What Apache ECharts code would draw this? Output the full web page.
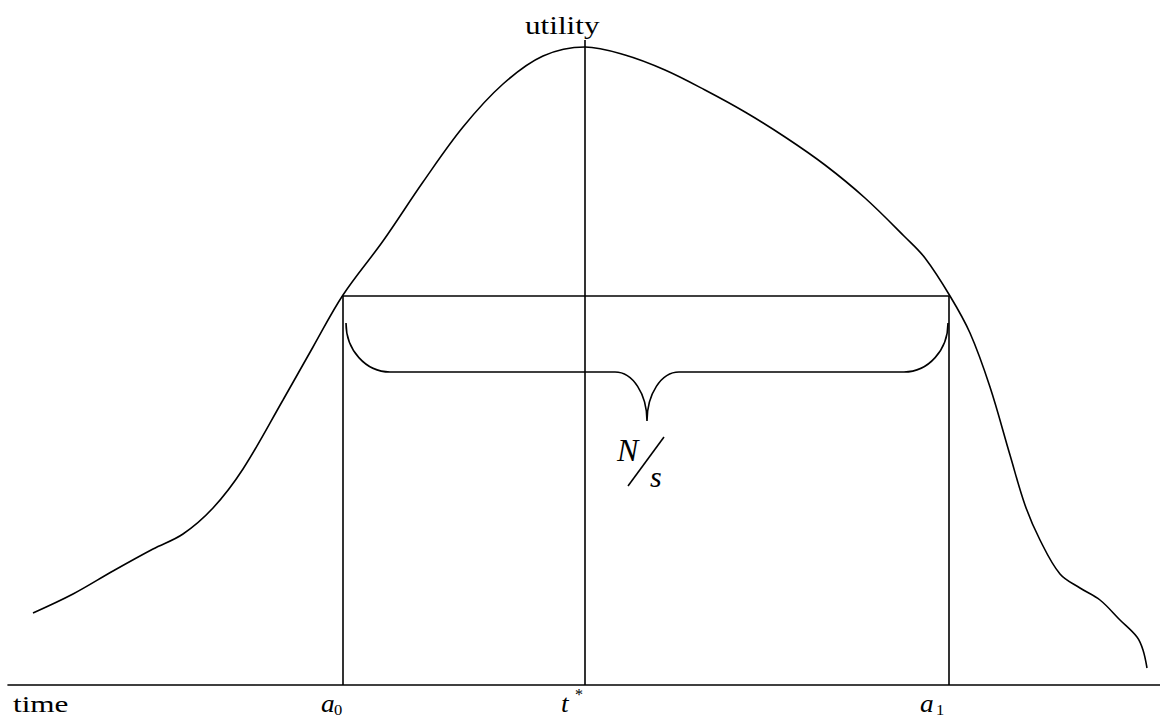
<!DOCTYPE html>
<html><head><meta charset="utf-8">
<script src="https://cdn.jsdelivr.net/npm/echarts@6/dist/echarts.min.js"></script>
<style>html,body{margin:0;padding:0;background:#fff}#c{width:1160px;height:718px}</style>
</head><body><div id="c"></div>
<script>
// ---- data (time units / utility units) ----
const timeValues    = [25,65,105,145,175,205,235,275,305,335,375,415,455,495,535,577,617,657,697,737,777,817,857,897,917,942,962,982,1002,1017,1032,1052,1072,1092,1112,1129,1135,1139];
const utilityValues = [72,91,114,136,151,177,216,285,338,390,444,503,558,601,629,638,630,615,595,573,548,520,487,448,427,389,352,298,230,180,145,111,97,85,65,48,35,17];
const markerLetters = ['a','t','a'];
const markerMarks   = ['0','*','1'];
const markerTimes   = [335,577,941];
const thresholdUtility = 389;
const peakLineTop = 645;
const braceTimes = [338,639,940];     // left end, tip, right end
const braceUtility = [362,313,264];   // ends, bar, tip
const axisName = 'time';
const curveName = 'utility';
const intervalLabel = ['N','s'];

const FONT = 'Liberation Serif';
const LW = 1.6;
const chart = echarts.init(document.getElementById('c'), null, {renderer:'svg'});

function txt(x, y, text, fs, italic, sx){
  return {type:'text', x:x, y:y, scaleX:sx||1,
    style:{text:text, fill:'#000', fontFamily:FONT, fontSize:fs, fontStyle:italic?'italic':'normal',
      textAlign:'left', textVerticalAlign:'middle'}};
}
// baseline -> middle
function bl(y, fs){ return y - 0.3*fs; }

const lineStyle = {color:'#000', width:LW};
const segs = [];
markerTimes.forEach((t,i)=>{
  segs.push({type:'line', data:[[t,0],[t, i===1?peakLineTop:thresholdUtility]], showSymbol:false, symbol:'none', lineStyle:lineStyle, silent:true});
});
segs.push({type:'line', data:[[markerTimes[0],thresholdUtility],[markerTimes[2],thresholdUtility]], showSymbol:false, symbol:'none', lineStyle:lineStyle, silent:true});

const option = {
  animation:false,
  grid:{left:8,right:0,top:0,bottom:33},
  xAxis:{type:'value',min:0,max:1152,axisLine:{show:true,lineStyle:{color:'#000',width:LW}},axisTick:{show:false},axisLabel:{show:false},splitLine:{show:false}},
  yAxis:{type:'value',min:0,max:685,show:false},
  series:[
    {type:'line', data: timeValues.map((t,i)=>[t,utilityValues[i]]), smooth:0.35, showSymbol:false, symbol:'none', lineStyle:lineStyle, silent:true},
    ...segs,
    {type:'custom', silent:true, data:[[0,0]], renderItem:function(params, api){
      const K = 0.5523;
      const L = api.coord([braceTimes[0], braceUtility[0]]);
      const R = api.coord([braceTimes[2], braceUtility[0]]);
      const M = api.coord([braceTimes[1], braceUtility[1]]);
      const T = api.coord([braceTimes[1], braceUtility[2]]);
      const rxO = api.coord([braceTimes[0]+44,0])[0]-L[0];
      const rxI = api.coord([braceTimes[1]+32,0])[0]-M[0];
      const ym = M[1], ryO = ym - L[1], ryI = T[1] - ym;
      const d = [
        'M',L[0],L[1],
        'C',L[0],L[1]+K*ryO, L[0]+rxO-K*rxO,ym, L[0]+rxO,ym,
        'L',T[0]-rxI,ym,
        'C',T[0]-rxI+K*rxI,ym, T[0],T[1]-K*ryI, T[0],T[1],
        'C',T[0],T[1]-K*ryI, T[0]+rxI-K*rxI,ym, T[0]+rxI,ym,
        'L',R[0]-rxO,ym,
        'C',R[0]-rxO+K*rxO,ym, R[0],R[1]+K*ryO, R[0],R[1]
      ].join(' ');
      return {type:'path', shape:{pathData:d}, style:{fill:null, stroke:'#000', lineWidth:LW}};
    }},
    {type:'custom', silent:true, data:[[0,0]], renderItem:function(params, api){
      const kids = [];
      const base = api.coord([0,0]);
      // axis name
      kids.push(txt(base[0]+5, bl(base[1]+26,24), axisName, 24, false, 1.3));
      // marker labels
      const offs = [[-22,-9],[-24,-10],[-29,-13]];
      markerTimes.forEach((t,i)=>{
        const p = api.coord([t,0]);
        kids.push(txt(p[0]+offs[i][0], bl(p[1]+26,26), markerLetters[i], 26, true, 1.05));
        if(markerMarks[i]==='*'){
          kids.push(txt(p[0]+offs[i][1], bl(p[1]+14,16), markerMarks[i], 16, false, 1));
        } else {
          kids.push(txt(p[0]+offs[i][1], bl(p[1]+29,15), markerMarks[i], 15, false, 1.1));
        }
      });
      // curve name
      const top = api.coord([markerTimes[1], peakLineTop]);
      kids.push(txt(top[0]-60, bl(top[1]-7,26), curveName, 26, false, 1.2));
      // N/s
      const tip = api.coord([braceTimes[1], braceUtility[2]]);
      kids.push(txt(tip[0]-30, bl(tip[1]+39,32), intervalLabel[0], 32, true, 1));
      kids.push(txt(tip[0]+3, bl(tip[1]+64,30), intervalLabel[1], 30, true, 1));
      kids.push({type:'line', shape:{x1:tip[0]-19,y1:tip[1]+65,x2:tip[0]+17,y2:tip[1]+16}, style:{stroke:'#000', lineWidth:LW}});
      return {type:'group', children:kids};
    }}
  ]
};
chart.setOption(option);
</script>
</body></html>
